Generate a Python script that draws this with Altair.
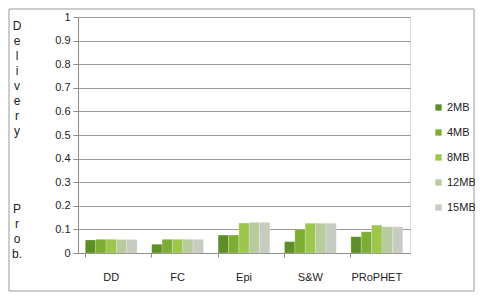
import altair as alt
import pandas as pd

protocols = ["DD", "FC", "Epi", "S&W", "PRoPHET"]
buffers = ["2MB", "4MB", "8MB", "12MB", "15MB"]
v_2mb = [0.055, 0.037, 0.076, 0.048, 0.069]
v_4mb = [0.058, 0.058, 0.076, 0.100, 0.090]
v_8mb = [0.058, 0.058, 0.127, 0.126, 0.118]
v_12mb = [0.057, 0.058, 0.130, 0.126, 0.111]
v_15mb = [0.057, 0.058, 0.130, 0.126, 0.111]
colors = ["#5e8f26", "#7dae33", "#9cc74c", "#b7cb9c", "#c6ccc0"]
title_part1 = ["D", "e", "l", "i", "v", "e", "r", "y"]
title_part2 = ["P", "r", "o", "b."]

rows = []
for b, vals in zip(buffers, [v_2mb, v_4mb, v_8mb, v_12mb, v_15mb]):
    for p, v in zip(protocols, vals):
        rows.append({"protocol": p, "buffer": b, "value": v})
df = pd.DataFrame(rows)

font = "Liberation Sans"

bars = alt.Chart(df).mark_bar(stroke="#ffffff", strokeWidth=0.4, strokeOpacity=0.5).encode(
    x=alt.X("protocol:N", sort=protocols, title=None,
            scale=alt.Scale(paddingInner=0.22, paddingOuter=0.11),
            axis=alt.Axis(labelAngle=0, labelPadding=14, tickSize=4, bandPosition=0,
                          domainColor="#8c8c8c", tickColor="#8c8c8c",
                          labelFont=font, labelFontSize=11, labelColor="#222222")),
    xOffset=alt.XOffset("buffer:N", sort=buffers, scale=alt.Scale(paddingInner=0, paddingOuter=0)),
    y=alt.Y("value:Q", scale=alt.Scale(domain=[0, 1]), title=None,
            axis=alt.Axis(values=[0, 0.1, 0.2, 0.3, 0.4, 0.5, 0.6, 0.7, 0.8, 0.9, 1],
                          labelExpr="datum.value == 0 ? '0' : datum.value == 1 ? '1' : format(datum.value, '.1f')",
                          grid=True, gridColor="#999999", gridWidth=1,
                          domainColor="#8c8c8c", tickColor="#8c8c8c", tickSize=5,
                          labelFont=font, labelFontSize=11, labelColor="#222222", labelPadding=3)),
    color=alt.Color("buffer:N", sort=buffers,
                    scale=alt.Scale(domain=buffers, range=colors),
                    legend=alt.Legend(title=None, orient="none", legendX=355, legendY=85,
                                      symbolType="square", symbolSize=40, symbolStrokeWidth=0,
                                      labelFont=font, labelFontSize=11, labelColor="#222222",
                                      rowPadding=13, labelOffset=3))
)

one = pd.DataFrame({"a": [0]})
t1 = alt.Chart(one).mark_text(font=font, fontSize=12, color="#222222", lineHeight=15,
                              align="center", baseline="top").encode(
    x=alt.value(-61), y=alt.value(4), text=alt.value(title_part1))
t2 = alt.Chart(one).mark_text(font=font, fontSize=12, color="#222222", lineHeight=15,
                              align="center", baseline="top").encode(
    x=alt.value(-61), y=alt.value(187), text=alt.value(title_part2))

border = alt.Chart(one).mark_rect(
    fill=None, stroke="#9a9a9a", strokeWidth=1
).encode(x=alt.value(-69), x2=alt.value(396), y=alt.value(-8), y2=alt.value(274))

chart = alt.layer(bars, t1, t2, border).properties(
    width=332, height=236,
    autosize=alt.AutoSizeParams(type="none"),
    padding={"left": 70, "top": 9, "right": 65, "bottom": 39},
).configure_view(stroke=None).configure(background="#ffffff")

chart.save("out.html", embed_options={"renderer": "svg", "actions": False})
